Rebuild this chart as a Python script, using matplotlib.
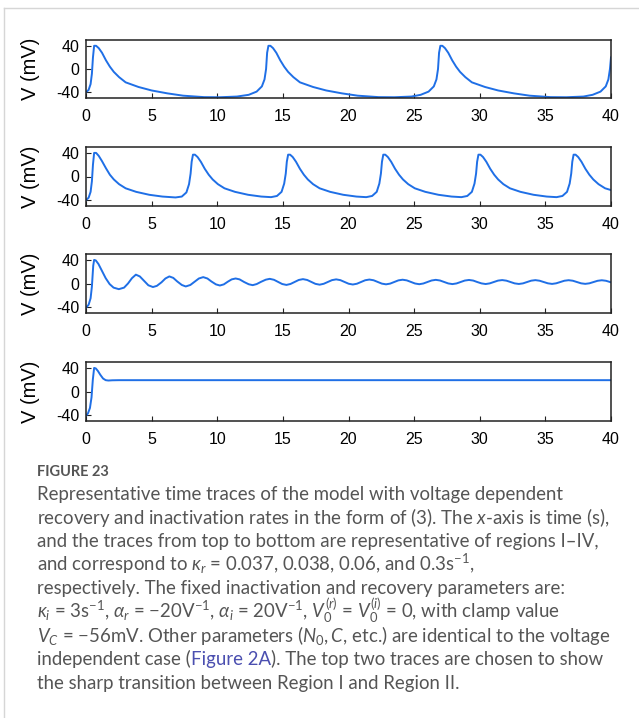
import numpy as np
import matplotlib

matplotlib.use("Agg")
import matplotlib.pyplot as plt
from matplotlib.lines import Line2D

# Time traces (t in s, V in mV)
t_region1 = [0.0, 0.2, 0.35, 0.45, 0.53, 0.62, 0.77, 0.97, 1.22, 1.52, 1.82, 2.12, 2.52, 3.02, 4.0, 5.0,
             6.2, 7.4, 9.0, 10.2, 11.5, 12.4, 13.0, 13.4, 13.6, 13.72, 13.8, 13.9,
             14.05, 14.25, 14.5, 14.8, 15.1, 15.4, 15.8, 16.3, 17.3, 18.3, 19.5, 20.7, 22.3, 23.5,
             24.8, 25.5, 26.1, 26.5, 26.7, 26.82, 26.9, 27.0,
             27.15, 27.35, 27.6, 27.9, 28.2, 28.5, 28.9, 29.4, 30.4, 31.4, 32.6, 33.8, 35.4, 36.6,
             37.9, 38.6, 39.2, 39.6, 39.8, 39.92, 40.0]
v_region1 = [-40, -36, -26, -8, 20, 40, 40, 36, 28, 15, 4, -5, -14, -23, -31, -37,
             -42, -46, -48.5, -48.7, -47.5, -44.5, -39, -30, -18, 0, 28, 40,
             40, 36, 28, 15, 4, -5, -14, -23, -31, -37, -42, -46, -48.5, -48.7,
             -47.5, -44.5, -39, -30, -18, 0, 28, 40,
             40, 36, 28, 15, 4, -5, -14, -23, -31, -37, -42, -46, -48.5, -48.7,
             -47.5, -44.5, -39, -30, -18, 0, 20]

t_region2 = [0.0, 0.2, 0.35, 0.45, 0.53, 0.62, 0.77, 0.97, 1.22, 1.52, 1.82, 2.12, 2.52, 3.02, 3.82, 4.82,
             5.82, 6.82, 7.3, 7.65, 7.85, 7.97, 8.05, 8.15,
             8.3, 8.5, 8.75, 9.05, 9.35, 9.65, 10.05, 10.55, 11.35, 12.35, 13.35, 14.1, 14.55, 14.9,
             15.1, 15.22, 15.3, 15.4,
             15.55, 15.75, 16.0, 16.3, 16.6, 16.9, 17.3, 17.8, 18.6, 19.6, 20.6, 21.35, 21.8, 22.15,
             22.35, 22.47, 22.55, 22.65,
             22.8, 23.0, 23.25, 23.55, 23.85, 24.15, 24.55, 25.05, 25.85, 26.85, 27.85, 28.6, 29.05, 29.4,
             29.6, 29.72, 29.8, 29.9,
             30.05, 30.25, 30.5, 30.8, 31.1, 31.4, 31.8, 32.3, 33.1, 34.1, 35.1, 35.85, 36.3, 36.65,
             36.85, 36.97, 37.05, 37.15,
             37.3, 37.5, 37.75, 38.05, 38.35, 38.65, 39.05, 39.55, 40.0]
v_region2 = [-40, -36, -26, -8, 20, 40, 40, 35, 26, 14, 3, -5, -13, -20, -26, -31,
             -34, -35.5, -34, -27, -13, 5, 25, 37,
             37, 33, 25, 13, 3, -5, -13, -20, -26, -31, -34, -35, -33, -26,
             -12, 5, 25, 37,
             37, 33, 25, 13, 3, -5, -13, -20, -26, -31, -34, -35, -33, -26,
             -12, 5, 25, 37,
             37, 33, 25, 13, 3, -5, -13, -20, -26, -31, -34, -35, -33, -26,
             -12, 5, 25, 37,
             37, 33, 25, 13, 3, -5, -13, -20, -26, -31, -34, -35, -33, -26,
             -12, 5, 25, 37,
             37, 33, 25, 13, 3, -5, -13, -20, -23]

t_region3 = [0.0, 0.2, 0.35, 0.45, 0.55, 0.62, 0.75, 0.95, 1.2, 1.5, 1.8, 2.1, 2.5, 2.9, 3.2, 3.5,
             3.8, 4.1, 4.4, 4.75, 5.1, 5.4, 5.75, 6.05, 6.35, 6.65, 6.95, 7.3, 7.6, 7.95, 8.3, 8.6,
             8.93, 9.25, 9.55, 9.9, 10.2, 10.5, 10.8, 11.1, 11.4, 11.7, 12.05, 12.4, 12.7, 13.0, 13.35, 13.7,
             14.0, 14.32, 14.63, 14.95, 15.27, 15.58, 15.9, 16.21,
             16.53, 16.85, 17.16, 17.48, 17.8, 18.11, 18.43, 18.74,
             19.06, 19.38, 19.69, 20.01, 20.33, 20.64, 20.96, 21.27,
             21.59, 21.91, 22.22, 22.54, 22.86, 23.17, 23.49, 23.8,
             24.12, 24.44, 24.75, 25.07, 25.39, 25.7, 26.02, 26.33,
             26.65, 26.97, 27.28, 27.6, 27.92, 28.23, 28.55, 28.86,
             29.18, 29.5, 29.81, 30.13, 30.45, 30.76, 31.08, 31.39,
             31.71, 32.03, 32.34, 32.66, 32.98, 33.29, 33.61, 33.92,
             34.24, 34.56, 34.87, 35.19, 35.51, 35.82, 36.14, 36.45,
             36.77, 37.09, 37.4, 37.72, 38.04, 38.35, 38.67, 38.98,
             39.3, 39.62, 40.0]
v_region3 = [-41, -36, -25, -5, 30, 40, 39, 33, 22, 9, -1, -7, -9.6, -7, 0, 9,
             15, 12, 5, -3, -6, -4, 2, 8.5, 12, 9.5, 3.5, -2.5, -5, -2.5, 3.5, 8.5,
             10.8, 8.5, 3.5, -1.5, -3.4, -1.5, 3, 7, 8.5, 7, 2.5, -1.3, -2.8, -1, 3, 6.5,
             7.9, 6.3, 2.7, -0.9, -2.4, -0.8, 2.6, 6.0,
             7.4, 6.0, 2.7, -0.6, -2.0, -0.5, 2.6, 5.7,
             7.0, 5.7, 2.6, -0.4, -1.7, -0.4, 2.6, 5.5,
             6.7, 5.5, 2.6, -0.2, -1.4, -0.2, 2.6, 5.3,
             6.4, 5.3, 2.6, 0.0, -1.2, 0.0, 2.6, 5.1,
             6.2, 5.1, 2.6, 0.1, -1.0, 0.1, 2.6, 5.0,
             6.0, 5.0, 2.5, 0.2, -0.9, 0.2, 2.5, 4.9,
             5.8, 4.8, 2.5, 0.2, -0.8, 0.2, 2.5, 4.8,
             5.7, 4.7, 2.5, 0.3, -0.7, 0.3, 2.5, 4.7,
             5.6, 4.7, 2.5, 0.3, -0.6, 0.3, 2.5, 4.6,
             5.5, 4.6, 2.0]

t_region4 = [0.0, 0.15, 0.3, 0.42, 0.52, 0.62, 0.75, 0.9, 1.1, 1.3, 1.5, 1.7, 2.0, 2.5, 40.0]
v_region4 = [-41, -37, -28, -10, 20, 40, 39, 35, 28, 22, 19.2, 18.6, 19.0, 19.2, 19.2]

traces = [(t_region1, v_region1), (t_region2, v_region2),
          (t_region3, v_region3), (t_region4, v_region4)]

x_ticks = [0, 5, 10, 15, 20, 25, 30, 35, 40]
y_ticks = [-40, 0, 40]
y_tick_labels = ["-40", "0", "40"]

W, H = 639, 718
fig = plt.figure(figsize=(W / 100, H / 100), dpi=100)

# axes tops/bottoms in pixels
panel_px = [(40, 98), (147, 206), (254, 313), (362, 421)]
left_px, right_px = 86, 611

for (t, v), (top, bot) in zip(traces, panel_px):
    ax = fig.add_axes([left_px / W, 1 - bot / H, (right_px - left_px) / W, (bot - top) / H])
    ax.plot(t, v, color="#1f6fe6", lw=1.4)
    ax.set_xlim(0, 40)
    ax.set_ylim(-50, 50)
    ax.set_xticks(x_ticks)
    ax.set_xticklabels([str(x) for x in x_ticks], fontfamily="Liberation Sans", fontsize=11.5)
    ax.set_yticks(y_ticks)
    ax.set_yticklabels(y_tick_labels, fontfamily="Liberation Sans", fontsize=11.5)
    ax.tick_params(direction="in", length=3.5, width=0.8, pad=8, color="#222222")
    ax.tick_params(axis="y", pad=5)
    for s in ax.spines.values():
        s.set_linewidth(1.1)
        s.set_color("#222222")
    ax.set_ylabel("V (mV)", fontfamily="Liberation Sans", fontsize=14.5)
    ax.yaxis.set_label_coords((40 - left_px) / (right_px - left_px), 0.5)

# light frame lines at left and top
fig.add_artist(Line2D([4 / W, 4 / W], [0, 1 - 8 / H], transform=fig.transFigure, color="#d6d6d6", lw=1))
fig.add_artist(Line2D([4 / W, 1], [1 - 8 / H, 1 - 8 / H], transform=fig.transFigure, color="#d6d6d6", lw=1))

# caption
plt.rcParams["mathtext.fontset"] = "custom"
plt.rcParams["mathtext.rm"] = "Lato"
plt.rcParams["mathtext.it"] = "Lato:italic"
cap_color = "#555555"
cap_x = 37 / W
cap_font = dict(fontfamily="Lato", fontsize=13.4, color=cap_color, va="baseline")

fig.text(cap_x, 1 - 476 / H, "FIGURE 23", fontfamily="Lato", fontsize=10.5, fontweight="bold",
         color=cap_color, va="baseline")

caption_lines = [
    "Representative time traces of the model with voltage dependent",
    "recovery and inactivation rates in the form of (3). The $x$-axis is time (s),",
    "and the traces from top to bottom are representative of regions I\u2013IV,",
    "and correspond to $\\kappa_r$ = 0.037, 0.038, 0.06, and 0.3s$^{-1}$,",
    "respectively. The fixed inactivation and recovery parameters are:",
    "$\\kappa_i$ = 3s$^{-1}$, $\\alpha_r$ = \u221220V$^{-1}$, $\\alpha_i$ = 20V$^{-1}$, "
    "$V_0^{(r)}$ = $V_0^{(i)}$ = 0, with clamp value",
    "$V_C$ = \u221256mV. Other parameters ($N_0, C$, etc.) are identical to the voltage",
    None,
    "the sharp transition between Region I and Region II.",
]
baselines = [500, 524, 547, 571, 594, 618, 642, 665, 689]

renderer = fig.canvas.get_renderer()
for line, yb in zip(caption_lines, baselines):
    y = 1 - yb / H
    if line is not None:
        fig.text(cap_x, y, line, **cap_font)
        continue
    # line with a coloured link in the middle
    x = cap_x
    for part, col in [("independent case (", cap_color), ("Figure 2A", "#4b4fb0"),
                      ("). The top two traces are chosen to show", cap_color)]:
        opts = dict(cap_font)
        opts["color"] = col
        txt = fig.text(x, y, part, **opts)
        bb = txt.get_window_extent(renderer)
        x += bb.width / W

fig.savefig("out.png", dpi=100)
